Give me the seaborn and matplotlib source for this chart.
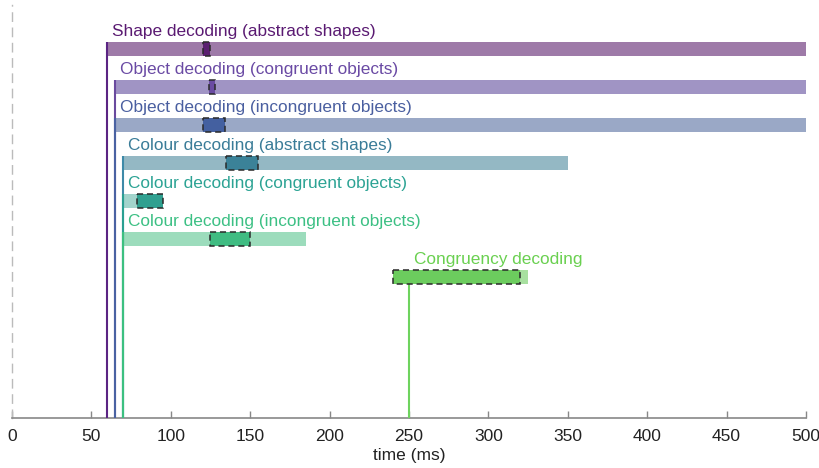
import matplotlib
matplotlib.use("Agg")
import matplotlib.pyplot as plt
import seaborn as sns
from matplotlib.patches import Rectangle

sns.set_theme(style="white")
plt.rcParams['font.family'] = ['Liberation Sans', 'DejaVu Sans']

labels = ["Shape decoding (abstract shapes)",
          "Object decoding (congruent objects)",
          "Object decoding (incongruent objects)",
          "Colour decoding (abstract shapes)",
          "Colour decoding (congruent objects)",
          "Colour decoding (incongruent objects)",
          "Congruency decoding"]
onset = [60, 65, 65, 70, 70, 70, 250]
sig_start = [60, 65, 65, 70, 70, 70, 240]
sig_end = [500, 500, 500, 350, 90, 185, 325]
peak_lo = [120, 124, 120, 135, 79, 125, 240]
peak_hi = [125, 128, 134, 155, 95, 150, 320]
line_colors = ["#5b2483", "#6a4a9e", "#4a62a2", "#3e8aa8", "#2aa092", "#3cc080", "#6ed35e"]
text_colors = ["#5a1a72", "#6a4aa4", "#4a5fa0", "#3a7c98", "#2ca394", "#3cc084", "#6ad050"]
light_colors = ["#9e7aa8", "#a094c4", "#9aa8c6", "#94b8c4", "#a2d4cc", "#9cdcbc", "#a8e0a0"]
dark_colors = ["#5a1f70", "#6a4ba2", "#4460a0", "#3b8298", "#30a090", "#40bc82", "#6ccc5e"]
xticks = [0, 50, 100, 150, 200, 250, 300, 350, 400, 450, 500]

fig, ax = plt.subplots(figsize=(8.2, 4.68), dpi=100)
fig.subplots_adjust(left=12/820, right=806/820, top=1-5/468, bottom=1-418/468)

h = 0.37
ybottom = 9.71
for i in range(len(labels)):
    ax.barh(i, sig_end[i] - sig_start[i], left=sig_start[i], height=h,
            color=light_colors[i], edgecolor='none', zorder=2)
    ax.add_patch(Rectangle((peak_lo[i], i - h/2 - 0.01), peak_hi[i] - peak_lo[i], h + 0.02,
                           facecolor=dark_colors[i], edgecolor="#2a2a2a",
                           linestyle=(0, (4, 2.5)), linewidth=1.1, zorder=4))
    ax.plot([onset[i], onset[i]], [i - h/2, ybottom], color=line_colors[i],
            lw=1.5, zorder=3, solid_capstyle='butt')
    ax.text(onset[i] + 3, i - h/2 - 0.08, labels[i], color=text_colors[i],
            fontsize=12.4, ha='left', va='bottom', zorder=5)

ax.set_xlim(0, 500)
ax.set_ylim(ybottom, -1.16)
ax.set_yticks([])
ax.set_xticks(xticks)
ax.set_xticklabels([str(t) for t in xticks], fontsize=12.5, color="#222222")
ax.tick_params(axis='x', direction='in', length=5, color="#888888", width=1, pad=8, bottom=True)
for s in ['top', 'right']:
    ax.spines[s].set_visible(False)
ax.spines['bottom'].set_color("#888888")
ax.spines['bottom'].set_linewidth(1.2)
ax.spines['left'].set_color("#bbbbbb")
ax.spines['left'].set_linestyle((0, (6, 5)))
ax.spines['left'].set_linewidth(1.0)
ax.set_xlabel("time (ms)", fontsize=12.5, color="#222222", labelpad=3)
ax.set_facecolor('white')

fig.savefig("out.png", dpi=100)
